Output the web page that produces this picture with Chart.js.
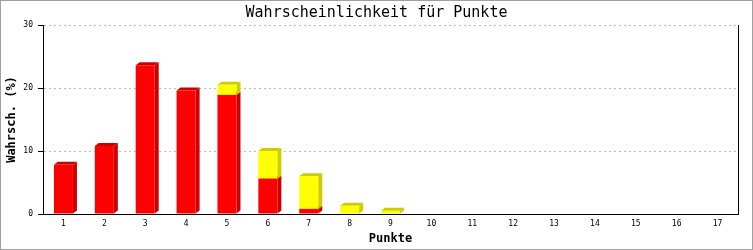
<!DOCTYPE html>
<html>
<head>
<meta charset="utf-8">
<script src="https://cdn.jsdelivr.net/npm/chart.js@4/dist/chart.umd.min.js"></script>
<style>
  html, body { margin: 0; padding: 0; background: #fff; }
  #wrap { width: 753px; height: 250px; box-sizing: border-box; border: 1px solid #a0a0a0; }
  canvas { display: block; }
</style>
</head>
<body>
<div id="wrap"><canvas id="chartPunkte" width="751" height="248"></canvas></div>
<script>
// Daten
const categories = ['1', '2', '3', '4', '5', '6', '7', '8', '9', '10', '11', '12', '13', '14', '15', '16', '17'];
const redValues = [7.8, 10.8, 23.6, 19.6, 18.9, 5.6, 0.8, 0, 0, 0, 0, 0, 0, 0, 0, 0, 0];
const yellowValues = [0, 0, 0, 0, 1.6, 4.4, 5.2, 1.3, 0.5, 0, 0, 0, 0, 0, 0, 0, 0];
const yTicks = [0, 10, 20, 30];

const MONO = '"DejaVu Sans Mono", "Liberation Mono", monospace';

// 3D-Effekt: Seite und Deckel hinter die Balken zeichnen
const bars3d = {
  id: 'bars3d',
  beforeDatasetsDraw(chart) {
    const ctx = chart.ctx;
    const dx = 4, dy = 3;
    ctx.save();
    chart.data.datasets.forEach((ds, i) => {
      const meta = chart.getDatasetMeta(i);
      meta.data.forEach(bar => {
        const p = bar.getProps(['x', 'y', 'base', 'width'], true);
        if (Math.abs(p.base - p.y) < 0.5) return;
        const left = p.x - p.width / 2;
        const right = p.x + p.width / 2;
        ctx.fillStyle = ds.sideColor;
        // Seite
        ctx.beginPath();
        ctx.moveTo(right, p.y);
        ctx.lineTo(right + dx, p.y - dy);
        ctx.lineTo(right + dx, p.base - dy);
        ctx.lineTo(right, p.base);
        ctx.closePath();
        ctx.fill();
        // Deckel
        ctx.beginPath();
        ctx.moveTo(left, p.y);
        ctx.lineTo(left + dx, p.y - dy);
        ctx.lineTo(right + dx, p.y - dy);
        ctx.lineTo(right, p.y);
        ctx.closePath();
        ctx.fill();
      });
    });
    ctx.restore();
  }
};

const config = {
  type: 'bar',
  data: {
    labels: categories,
    datasets: [
      {
        label: 'rot',
        data: redValues,
        backgroundColor: '#ff0000',
        sideColor: '#cc0000',
        borderWidth: 0,
        barPercentage: 0.465,
        categoryPercentage: 1
      },
      {
        label: 'gelb',
        data: yellowValues,
        backgroundColor: '#ffff00',
        sideColor: '#cccc00',
        borderWidth: 0,
        barPercentage: 0.465,
        categoryPercentage: 1
      }
    ]
  },
  options: {
    responsive: false,
    animation: false,
    layout: {
      padding: 0
    },
    plugins: {
      legend: { display: false },
      tooltip: { enabled: false },
      title: {
        display: true,
        text: 'Wahrscheinlichkeit für Punkte',
        color: '#000',
        font: { family: MONO, size: 15, weight: 'normal', lineHeight: 1.2 },
        padding: { top: 3, bottom: 3 }
      }
    },
    scales: {
      x: {
        stacked: true,
        grid: { display: false, drawTicks: false },
        border: { display: true, color: '#000', width: 1 },
        ticks: {
          color: '#000',
          padding: 5,
          maxRotation: 0,
          autoSkip: false,
          font: { family: MONO, size: 8 }
        },
        title: {
          display: true,
          text: 'Punkte',
          color: '#000',
          font: { family: MONO, size: 12, weight: 'bold', lineHeight: 1.2 },
          padding: { top: 0, bottom: 3 }
        },
        afterFit: function(scale) { scale.height = 35; }
      },
      y: {
        stacked: true,
        min: 0,
        max: 30,
        afterBuildTicks: function(scale) {
          scale.ticks = yTicks.map(v => ({ value: v }));
        },
        grid: {
          color: c => (c.tick && c.tick.value === 0) ? 'rgba(0,0,0,0)' : '#bbbbbb',
          tickColor: '#000',
          tickBorderDash: [],
          tickLength: 5
        },
        border: { display: true, color: '#000', width: 1, dash: [2, 3] },
        ticks: {
          color: '#000',
          padding: 5,
          font: { family: MONO, size: 8 }
        },
        title: {
          display: true,
          text: 'Wahrsch. (%)',
          color: '#000',
          font: { family: MONO, size: 12, weight: 'bold', lineHeight: 1.2 },
          padding: { top: 4, bottom: 0 }
        },
        afterFit: function(scale) { scale.width = 42; }
      },
      // rechte Begrenzungslinie
      yRight: {
        position: 'right',
        min: 0,
        max: 30,
        grid: { display: false, drawTicks: false },
        border: { display: true, color: '#000', width: 1 },
        ticks: { display: false },
        afterFit: function(scale) { scale.width = 14; }
      }
    }
  },
  plugins: [bars3d]
};

const ctx = document.getElementById('chartPunkte').getContext('2d');
new Chart(ctx, config);
</script>
</body>
</html>
